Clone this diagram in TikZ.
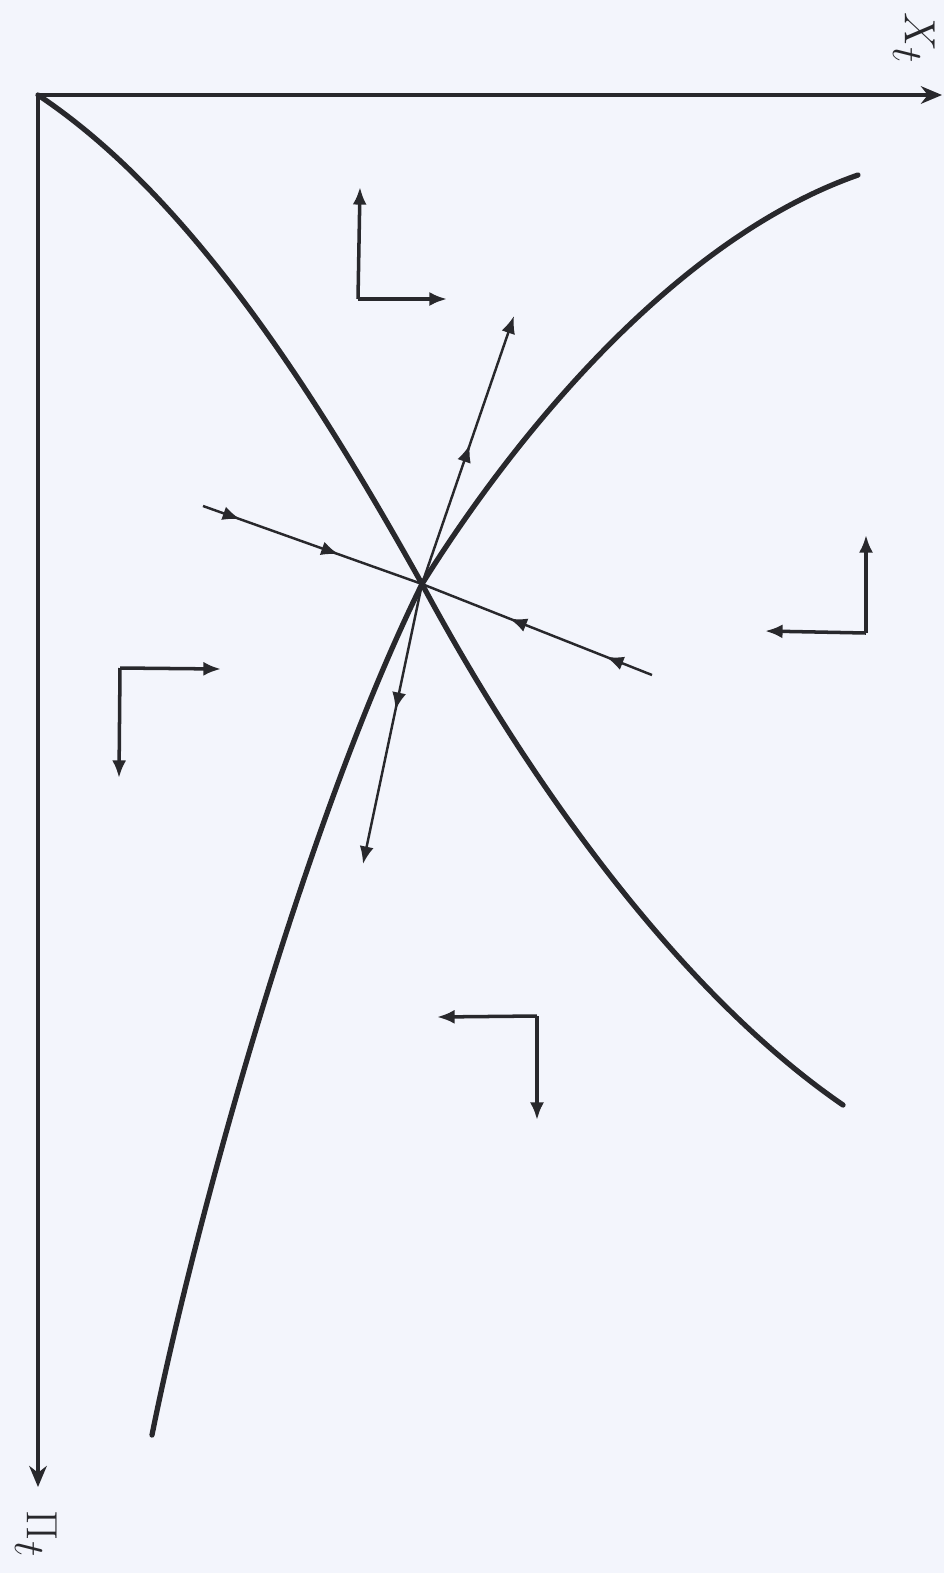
\documentclass[tikz,border=0pt]{standalone}
\usepackage{amsmath,amssymb}
\usepackage{xcolor}
\usetikzlibrary{arrows.meta,decorations.markings}
\definecolor{ink}{RGB}{40,40,44}
\definecolor{paper}{RGB}{243,245,252}
\tikzset{
  axis/.style={draw=ink, line width=2pt, -{Stealth[length=12pt, width=10pt]}},
  branch/.style={draw=ink, line width=3pt, line cap=round},
  arm/.style={draw=ink, line width=1.4pt},
  tip/.style={-{Latex[length=10pt, width=8pt]}},
  flow/.style={draw=ink, line width=2pt, -{Latex[length=10pt, width=8pt]}},
  midarrows/.style 2 args={postaction={decorate}, decoration={markings,
    mark=at position #1 with {\arrow{Latex[length=10pt, width=8pt]}},
    mark=at position #2 with {\arrow{Latex[length=10pt, width=8pt]}}}},
  midarrow/.style={postaction={decorate}, decoration={markings,
    mark=at position #1 with {\arrow{Latex[length=10pt, width=8pt]}}}},
  axlabel/.style={text=ink, font=\fontsize{40}{44}\selectfont, rotate=-90, inner sep=0pt}
}
\begin{document}
\begin{tikzpicture}[x=0.02cm, y=-0.02cm]
  \fill[paper] (0,0) rectangle (944,1573);
  \useasboundingbox (0,0) rectangle (944,1573);
  % axes
  \coordinate (O) at (38,95);
  \coordinate (xend) at (942,95);
  \coordinate (pend) at (38,1487);
  \draw[axis] (O) -- (xend);
  \draw[axis] (O) -- (pend);
  \node[axlabel] (xlab) at (914,38) {$X_t$};
  \node[axlabel] (plab) at (36,1534) {$\Pi_t$};
  % saddle and the two curves
  \coordinate (S) at (422,584);
  \coordinate (a2) at (843,1105);
  \coordinate (b1) at (858,175);
  \coordinate (b2) at (152,1435);
  \draw[branch] (O) .. controls (188,195) and (312,387) .. (S)
                    .. controls (532,789) and (683,995) .. (a2);
  \draw[branch] (b1) .. controls (678,238) and (518,430) .. (S)
                     .. controls (303,825) and (192,1235) .. (b2);
  % stable arm
  \coordinate (s1) at (203,506);
  \coordinate (s2) at (652,675);
  \draw[arm, midarrows={0.17}{0.62}] (s1) -- (S);
  \draw[arm, midarrows={0.2}{0.62}] (s2) -- (S);
  % unstable arm
  \coordinate (u1) at (514,316);
  \coordinate (u2) at (363,864);
  \draw[arm, tip, midarrow=0.52] (S) -- (u1);
  \draw[arm, tip, midarrow=0.45] (S) -- (u2);
  % direction arrows
  \coordinate (c1) at (358,299);
  \coordinate (c2) at (866,633);
  \coordinate (c3) at (120,668);
  \coordinate (c4) at (537,1016);
  \draw[flow] (c1) -- (360,187);
  \draw[flow] (c1) -- (447,299);
  \draw[flow] (c2) -- (866,535);
  \draw[flow] (c2) -- (765,631);
  \draw[flow] (c3) -- (221,669);
  \draw[flow] (c3) -- (119,778);
  \draw[flow] (c4) -- (437,1017);
  \draw[flow] (c4) -- (537,1120);
\end{tikzpicture}
\end{document}
